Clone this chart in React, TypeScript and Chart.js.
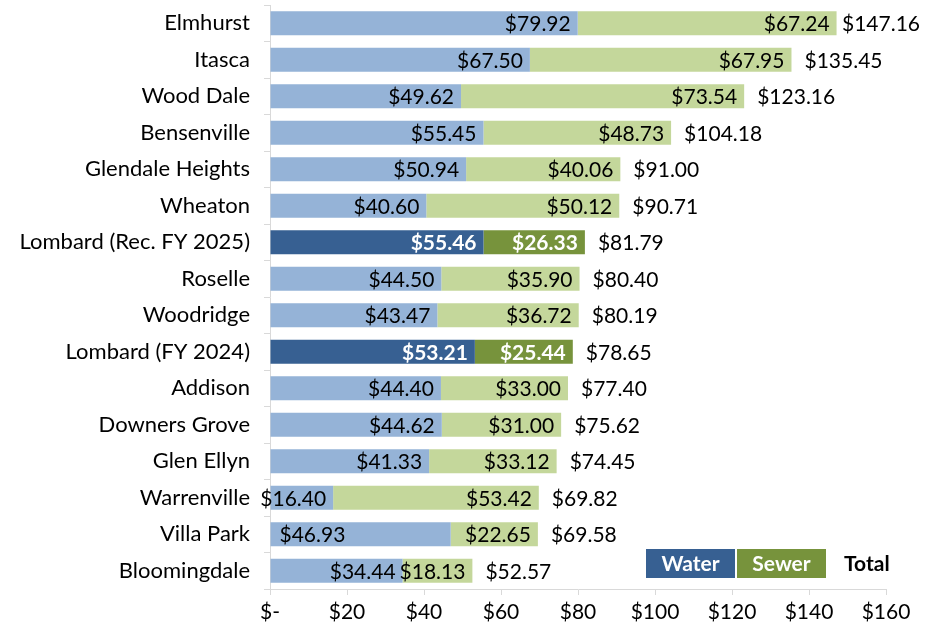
import React, { useEffect, useRef } from "react";
import { Chart, registerables } from "chart.js";

Chart.register(...registerables);

const categories = [
  "Elmhurst",
  "Itasca",
  "Wood Dale",
  "Bensenville",
  "Glendale Heights",
  "Wheaton",
  "Lombard (Rec. FY 2025)",
  "Roselle",
  "Woodridge",
  "Lombard (FY 2024)",
  "Addison",
  "Downers Grove",
  "Glen Ellyn",
  "Warrenville",
  "Villa Park",
  "Bloomingdale",
];
const waterValues = [79.92, 67.5, 49.62, 55.45, 50.94, 40.6, 55.46, 44.5, 43.47, 53.21, 44.4, 44.62, 41.33, 16.4, 46.93, 34.44];
const sewerValues = [67.24, 67.95, 73.54, 48.73, 40.06, 50.12, 26.33, 35.9, 36.72, 25.44, 33.0, 31.0, 33.12, 53.42, 22.65, 18.13];
const totalValues = [147.16, 135.45, 123.16, 104.18, 91.0, 90.71, 81.79, 80.4, 80.19, 78.65, 77.4, 75.62, 74.45, 69.82, 69.58, 52.57];
const highlighted = ["Lombard (Rec. FY 2025)", "Lombard (FY 2024)"];
const xMin = 0;
const xMax = 160;
const xStep = 20;
const legendLabels = ["Water", "Sewer", "Total"];

const WATER_LIGHT = "#95B3D7";
const SEWER_LIGHT = "#C4D79B";
const WATER_DARK = "#376092";
const SEWER_DARK = "#77933C";
const FONT = "Lato, 'Open Sans', sans-serif";
const FS = 21;
const CAT_FS = 22;

const fmt = (v: number) => "$" + v.toFixed(2);

const labelPlugin = {
  id: "valueLabels",
  afterDatasetsDraw(chart: any) {
    const ctx = chart.ctx;
    const wMeta = chart.getDatasetMeta(0);
    const sMeta = chart.getDatasetMeta(1);
    ctx.save();
    ctx.textBaseline = "middle";
    categories.forEach((cat, i) => {
      const hl = highlighted.includes(cat);
      const w = wMeta.data[i];
      const s = sMeta.data[i];
      ctx.font = `${hl ? "bold " : ""}${FS}px ${FONT}`;
      ctx.fillStyle = hl ? "#ffffff" : "#000000";
      // water label
      if (cat === "Villa Park") {
        ctx.textAlign = "left";
        ctx.fillText(fmt(waterValues[i]), w.base + 9, w.y + 1);
      } else {
        ctx.textAlign = "right";
        ctx.fillText(fmt(waterValues[i]), w.x - 7, w.y + 1);
      }
      // sewer label
      ctx.textAlign = "right";
      ctx.fillText(fmt(sewerValues[i]), s.x - 7, s.y + 1);
      // total label
      ctx.font = `${FS}px ${FONT}`;
      ctx.fillStyle = "#000000";
      ctx.textAlign = "left";
      const txt = fmt(totalValues[i]);
      const tw = ctx.measureText(txt).width;
      const tx = Math.min(s.x + 13, chart.width - 8 - tw);
      ctx.fillText(txt, Math.max(tx, s.x + 5), s.y + 1);
    });

    // legend
    const area = chart.chartArea;
    const bh = 29;
    const bw = 89;
    const top = area.bottom - 40;
    const left = area.right - 240;
    ctx.font = `bold ${FS}px ${FONT}`;
    ctx.textAlign = "center";
    ctx.fillStyle = WATER_DARK;
    ctx.fillRect(left, top, bw, bh);
    ctx.fillStyle = SEWER_DARK;
    ctx.fillRect(left + bw + 2, top, bw, bh);
    ctx.fillStyle = "#ffffff";
    ctx.fillText(legendLabels[0], left + bw / 2, top + bh / 2 + 1);
    ctx.fillText(legendLabels[1], left + bw + 2 + bw / 2, top + bh / 2 + 1);
    ctx.fillStyle = "#000000";
    ctx.textAlign = "left";
    ctx.fillText(legendLabels[2], left + 2 * bw + 20, top + bh / 2 + 1);
    ctx.restore();
  },
};

export default function App() {
  const ref = useRef<HTMLCanvasElement | null>(null);
  useEffect(() => {
    if (!ref.current) return;
    const chart = new Chart(ref.current, {
      type: "bar",
      data: {
        labels: categories,
        datasets: [
          {
            label: "Water",
            data: waterValues,
            backgroundColor: categories.map((c) => (highlighted.includes(c) ? WATER_DARK : WATER_LIGHT)),
            barPercentage: 0.66,
            categoryPercentage: 1,
          },
          {
            label: "Sewer",
            data: sewerValues,
            backgroundColor: categories.map((c) => (highlighted.includes(c) ? SEWER_DARK : SEWER_LIGHT)),
            barPercentage: 0.66,
            categoryPercentage: 1,
          },
        ],
      },
      options: {
        indexAxis: "y",
        animation: false,
        responsive: false,
        maintainAspectRatio: false,
        layout: { padding: { top: 5, right: 42, left: 0, bottom: 0 } },
        plugins: {
          legend: { display: false },
          tooltip: { enabled: false },
        },
        scales: {
          x: {
            stacked: true,
            min: xMin,
            max: xMax,
            ticks: {
              stepSize: xStep,
              color: "#000",
              font: { family: FONT, size: FS },
              padding: 5,
              callback: (v: any) => (Number(v) === 0 ? "$-" : "$" + v),
            },
            grid: { drawOnChartArea: false, drawTicks: true, tickLength: 6, color: "#D9D9D9" },
            border: { display: true, color: "#D9D9D9" },
            afterFit: (s: any) => {
              s.height = 45;
              s.paddingLeft = 0;
              s.paddingRight = 0;
            },
          },
          y: {
            stacked: true,
            ticks: {
              color: "#000",
              font: { family: FONT, size: CAT_FS },
              padding: 14,
            },
            grid: { drawOnChartArea: false, drawTicks: true, tickLength: 6, color: "#D9D9D9", offset: true },
            border: { display: true, color: "#D9D9D9" },
            afterFit: (s: any) => {
              s.width = 270;
              s.paddingTop = 0;
              s.paddingBottom = 0;
            },
          },
        },
      },
      plugins: [labelPlugin],
    });
    return () => chart.destroy();
  }, []);
  return (
    <div style={{ position: "fixed", left: 0, top: 0, width: 928, height: 634, background: "#fff" }}>
      <canvas ref={ref} width={928} height={634} style={{ width: 928, height: 634 }} />
    </div>
  );
}
